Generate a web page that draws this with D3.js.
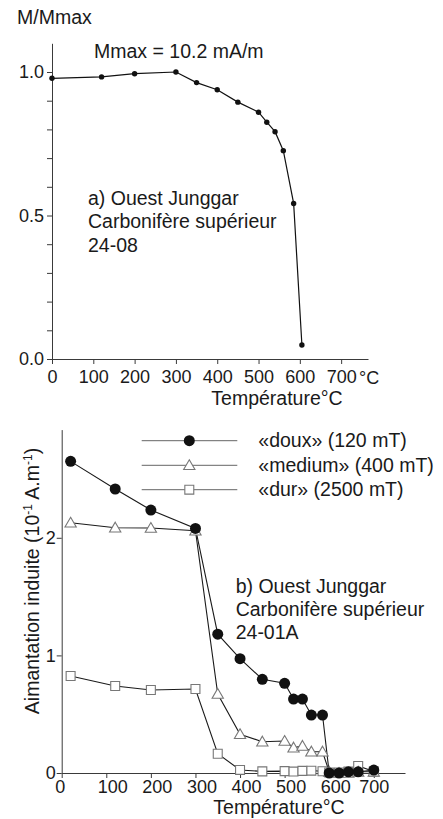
<!DOCTYPE html>
<html><head><meta charset="utf-8">
<script src="https://cdn.jsdelivr.net/npm/d3@7"></script>
<style>
html,body{margin:0;padding:0;background:#fff;}
svg text{font-family:"Liberation Sans",Arial,sans-serif;fill:#1a1a1a;}
</style></head>
<body>
<svg id="chart" width="443" height="819"></svg>
<script>
// ---- Chart a data ----
const tempsA = [0, 120, 200, 300, 350, 400, 450, 500, 520, 540, 560, 585, 605];
const ratioA = [0.978, 0.983, 0.994, 1.0, 0.963, 0.938, 0.895, 0.86, 0.825, 0.792, 0.726, 0.542, 0.049];
const xTicksA = [0, 100, 200, 300, 400, 500, 600, 700];
const yTicksA = [0, 0.1, 0.2, 0.3, 0.4, 0.5, 0.6, 0.7, 0.8, 0.9, 1.0];
const yLabelsA = [0, 0.5, 1.0];
const infoA = ["a) Ouest Junggar", "Carbonifère supérieur", "24-08"];

// ---- Chart b data ----
const tempsB = [20, 120, 200, 300, 350, 400, 450, 500, 520, 540, 560, 585, 600, 622, 643, 665, 700];
const doux   = [2.65, 2.415, 2.236, 2.08, 1.18, 0.972, 0.797, 0.763, 0.629, 0.629, 0.493, 0.493, 0.0, 0.0, 0.01, 0.01, 0.025];
const medium = [2.128, 2.086, 2.083, 2.06, 0.672, 0.329, 0.266, 0.272, 0.215, 0.23, 0.181, 0.181, 0.01, 0.0, 0.0, 0.01, 0.01];
const dur    = [0.825, 0.74, 0.706, 0.714, 0.164, 0.026, 0.014, 0.016, 0.012, 0.018, 0.02, 0.015, 0.005, 0.005, 0.012, 0.06, 0.012];
const xTicksB = [0, 100, 200, 300, 400, 500, 600, 700];
const yTicksB = [0, 1, 2];
const seriesNames = ["«doux» (120 mT)", "«medium» (400 mT)", "«dur» (2500 mT)"];
const infoB = ["b) Ouest Junggar", "Carbonifère supérieur", "24-01A"];

const svg = d3.select("#chart");
const AX = "#3a3a3a";

function styleAxis(g){
  g.select(".domain").attr("stroke", AX).attr("stroke-width", 1);
  g.selectAll(".tick line").attr("stroke", AX).attr("stroke-width", 1);
  g.selectAll(".tick text").attr("fill", "#1a1a1a").style("font-size", "18px")
    .style("font-family", '"Liberation Sans",Arial,sans-serif');
}

// ================= Chart a =================
const xA = d3.scaleLinear().domain([0, 765]).range([52, 368]);
const yA = d3.scaleLinear().domain([0, 1.1]).range([359, 43.3]);

svg.append("g").attr("transform", `translate(0,${yA(0)})`)
  .call(d3.axisBottom(xA).tickValues(xTicksA).tickSize(5).tickPadding(6).tickSizeOuter(0).tickFormat(d3.format("d")))
  .call(styleAxis);
svg.append("g").attr("transform", `translate(${xA(0)},0)`)
  .call(d3.axisLeft(yA).tickValues(yTicksA).tickSize(5).tickPadding(3).tickSizeOuter(0)
    .tickFormat(d => yLabelsA.some(v => Math.abs(v - d) < 1e-9) ? d3.format(".1f")(d) : ""))
  .call(styleAxis);

svg.append("text").attr("x", 359).attr("y", 383.5).style("font-size", "18px").text("°C");
svg.append("text").attr("x", 17).attr("y", 24.3).style("font-size", "19.5px").text("M/Mmax");
svg.append("text").attr("x", 94).attr("y", 57.7).style("font-size", "19.5px").text("Mmax = 10.2 mA/m");
svg.append("text").attr("x", 277).attr("y", 405).attr("text-anchor", "middle").style("font-size", "19.5px").text("Température°C");
svg.append("g").selectAll("text").data(infoA).join("text")
  .attr("x", 88).attr("y", (d, i) => 205 + i * 23.3).style("font-size", "19.5px").text(d => d);

const ptsA = tempsA.map((t, i) => [t, ratioA[i]]);
svg.append("path").datum(ptsA)
  .attr("d", d3.line().x(d => xA(d[0])).y(d => yA(d[1])))
  .attr("fill", "none").attr("stroke", "#111").attr("stroke-width", 1.2);
svg.append("g").selectAll("circle").data(ptsA).join("circle")
  .attr("cx", d => xA(d[0])).attr("cy", d => yA(d[1])).attr("r", 2.7).attr("fill", "#111");

// ================= Chart b =================
const xB = d3.scaleLinear().domain([0, 770]).range([61.7, 405]);
const yB = d3.scaleLinear().domain([0, 2.92]).range([773, 429.6]);

const gxB = svg.append("g").attr("transform", `translate(0,${yB(0)})`)
  .call(d3.axisBottom(xB).tickValues(xTicksB).tickSize(5).tickPadding(2).tickSizeOuter(0).tickFormat(d3.format("d")))
  .call(styleAxis);
gxB.selectAll(".tick text").attr("dx", d => (d > 0 && d < 700) ? 6 : (d === 0 ? -2 : 0));
svg.append("g").attr("transform", `translate(${xB(0)},0)`)
  .call(d3.axisLeft(yB).tickValues(yTicksB).tickSize(5).tickPadding(1).tickSizeOuter(0).tickFormat(d3.format("d")))
  .call(styleAxis);

svg.append("text").attr("x", 279).attr("y", 814).attr("text-anchor", "middle").style("font-size", "19.5px").text("Température°C");
svg.append("g").selectAll("text").data(infoB).join("text")
  .attr("x", 235.7).attr("y", (d, i) => 593.3 + i * 23).style("font-size", "19.5px").text(d => d);

// y label with superscripts
const yl = svg.append("text").attr("transform", "translate(38.5,581) rotate(-90)")
  .attr("text-anchor", "middle").style("font-size", "19.5px");
yl.append("tspan").text("Aimantation induite (10");
yl.append("tspan").attr("dy", -7).style("font-size", "12px").text("-1");
yl.append("tspan").attr("dy", 7).text(" A.m");
yl.append("tspan").attr("dy", -7).style("font-size", "12px").text("-1");
yl.append("tspan").attr("dy", 7).text(")");

const line = d3.line().x(d => xB(d[0])).y(d => yB(d[1]));
const sDoux = tempsB.map((t, i) => [t, doux[i]]);
const sMed = tempsB.map((t, i) => [t, medium[i]]);
const sDur = tempsB.map((t, i) => [t, dur[i]]);

const triPath = d3.symbol().type(d3.symbolTriangle).size(55)();
const sqPath = d3.symbol().type(d3.symbolSquare).size(80)();

// draw dur first, then medium, then doux
[sDur, sMed, sDoux].forEach(s => {
  svg.append("path").datum(s).attr("d", line).attr("fill", "none")
    .attr("stroke", "#1a1a1a").attr("stroke-width", 1.1);
});
svg.append("g").selectAll("path").data(sDur).join("path")
  .attr("d", sqPath).attr("transform", d => `translate(${xB(d[0])},${yB(d[1])})`)
  .attr("fill", "#fff").attr("stroke", "#777").attr("stroke-width", 1.1);
svg.append("g").selectAll("path").data(sMed).join("path")
  .attr("d", triPath).attr("transform", d => `translate(${xB(d[0])},${yB(d[1]) + 1})`)
  .attr("fill", "#fff").attr("stroke", "#777").attr("stroke-width", 1.1);
svg.append("g").selectAll("circle").data(sDoux).join("circle")
  .attr("cx", d => xB(d[0])).attr("cy", d => yB(d[1])).attr("r", 5.5).attr("fill", "#111");

// legend
const legY = [440.7, 465.3, 489.7];
const leg = svg.append("g");
legY.forEach((y, i) => {
  leg.append("line").attr("x1", 141.7).attr("x2", 237.3).attr("y1", y).attr("y2", y)
    .attr("stroke", "#666").attr("stroke-width", 1);
  if (i === 0) leg.append("circle").attr("cx", 189.3).attr("cy", y).attr("r", 5.5).attr("fill", "#111");
  if (i === 1) leg.append("path").attr("d", triPath).attr("transform", `translate(189.3,${y + 1})`)
    .attr("fill", "#fff").attr("stroke", "#777").attr("stroke-width", 1.1);
  if (i === 2) leg.append("path").attr("d", sqPath).attr("transform", `translate(189.3,${y})`)
    .attr("fill", "#fff").attr("stroke", "#777").attr("stroke-width", 1.1);
  leg.append("text").attr("x", 258.3).attr("y", y + 6.5).style("font-size", "19.5px").text(seriesNames[i]);
});
</script>
</body></html>
